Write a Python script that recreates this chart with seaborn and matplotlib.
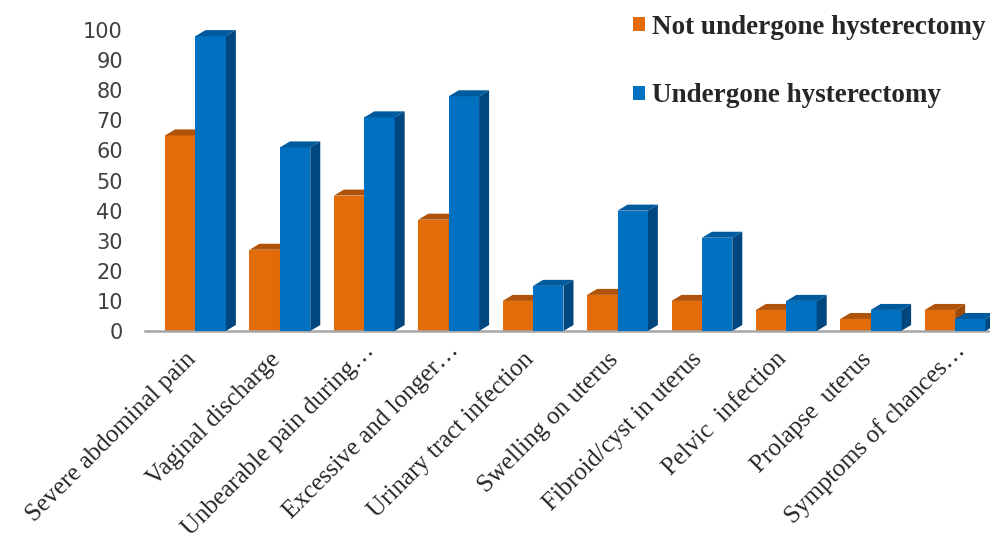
import numpy as np
import pandas as pd
import matplotlib
matplotlib.use("Agg")
import matplotlib.pyplot as plt
import matplotlib.transforms as mtransforms
import seaborn as sns
from matplotlib.patches import Polygon
from matplotlib.colors import to_rgba

categories = ["Severe abdominal pain", "Vaginal discharge", "Unbearable pain during…",
              "Excessive and longer…", "Urinary tract infection", "Swelling on uterus",
              "Fibroid/cyst in uterus", "Pelvic  infection", "Prolapse  uterus",
              "Symptoms of chances…"]
series_names = ["Not undergone hysterectomy", "Undergone hysterectomy"]
not_undergone = [65, 27, 45, 37, 10, 12, 10, 7, 4, 7]
undergone = [98, 61, 71, 78, 15, 40, 31, 10, 7, 4]
y_ticks = [0, 10, 20, 30, 40, 50, 60, 70, 80, 90, 100]

df = pd.DataFrame({
    "Symptom": categories * 2,
    "Percent": not_undergone + undergone,
    "Group": [series_names[0]] * len(categories) + [series_names[1]] * len(categories),
})

ORANGE = "#E36C0A"
BLUE = "#0070C0"
shades = {
    ORANGE: ("#B0530A", "#A04B08"),   # top, side
    BLUE: ("#005A9E", "#00477F"),
}

sns.set_style("white")
plt.rcParams["font.family"] = ["DejaVu Sans"]

W, H = 990, 538
fig = plt.figure(figsize=(W / 100, H / 100), dpi=100)
ax_left, ax_right, ax_bottom_px, ax_top_px = 145, 990, 331, 0
ax = fig.add_axes([ax_left / W, (H - ax_bottom_px) / H,
                   (ax_right - ax_left) / W, (ax_bottom_px - ax_top_px) / H])

sns.barplot(data=df, x="Symptom", y="Percent", hue="Group", hue_order=series_names,
            order=categories, palette=[ORANGE, BLUE], width=0.72, saturation=1,
            linewidth=0, edgecolor="none", ax=ax)

xlim = (-0.598, 9.413)
ylim = (0, 110)
ax.set_xlim(*xlim)
ax.set_ylim(*ylim)

# 3D depth in data units (10 px right, 6 px up)
px_per_x = (ax_right - ax_left) / (xlim[1] - xlim[0])
px_per_y = (ax_bottom_px - ax_top_px) / (ylim[1] - ylim[0])
dx = 10 / px_per_x
dy = 6 / px_per_y

for p in list(ax.patches):
    fc = p.get_facecolor()
    key = ORANGE if np.allclose(fc[:3], to_rgba(ORANGE)[:3], atol=0.02) else BLUE
    base_z = 2 if key == ORANGE else 3
    p.set_zorder(base_z)
    x, w, h = p.get_x(), p.get_width(), p.get_height()
    top_c, side_c = shades[key]
    top = Polygon([(x, h), (x + w, h), (x + w + dx, h + dy), (x + dx, h + dy)],
                  closed=True, facecolor=top_c, edgecolor="none", zorder=base_z + 0.5)
    side = Polygon([(x + w, 0), (x + w + dx, dy), (x + w + dx, h + dy), (x + w, h)],
                   closed=True, facecolor=side_c, edgecolor="none", zorder=base_z + 0.4)
    ax.add_patch(side)
    ax.add_patch(top)

ax.set_xlabel("")
ax.set_ylabel("")
ax.set_yticks(y_ticks)
ax.set_yticklabels([str(v) for v in y_ticks], fontsize=15, color="#404040")
ax.tick_params(axis="y", length=0, pad=16)
ax.tick_params(axis="x", length=0, pad=18)
ax.set_xticks(range(len(categories)))
ax.set_xticklabels(categories, rotation=45, ha="right", va="center",
                   rotation_mode="anchor", fontsize=18, color="#262626",
                   family=["Liberation Serif", "DejaVu Serif"])
for lab in ax.get_xticklabels():
    if lab.get_text().endswith("…"):
        off = mtransforms.ScaledTranslation(7 / 100, 9 / 100, fig.dpi_scale_trans)
    else:
        off = mtransforms.ScaledTranslation(-3 / 100, 0, fig.dpi_scale_trans)
    lab.set_transform(lab.get_transform() + off)

for s in ["left", "right", "top"]:
    ax.spines[s].set_visible(False)
ax.spines["bottom"].set_color("#A6A6A6")
ax.spines["bottom"].set_linewidth(1.8)
ax.spines["bottom"].set_bounds(xlim[0], xlim[1])

sns.move_legend(ax, "upper left", bbox_to_anchor=(633 / W, 1 - 15 / H),
                bbox_transform=fig.transFigure, title=None, frameon=False,
                prop={"family": "Liberation Serif", "weight": "bold", "size": 19.5},
                handlelength=0.46, handleheight=0.42, handletextpad=0.26,
                labelspacing=1.6, borderpad=0, borderaxespad=0)

fig.savefig("out.png", dpi=100)
